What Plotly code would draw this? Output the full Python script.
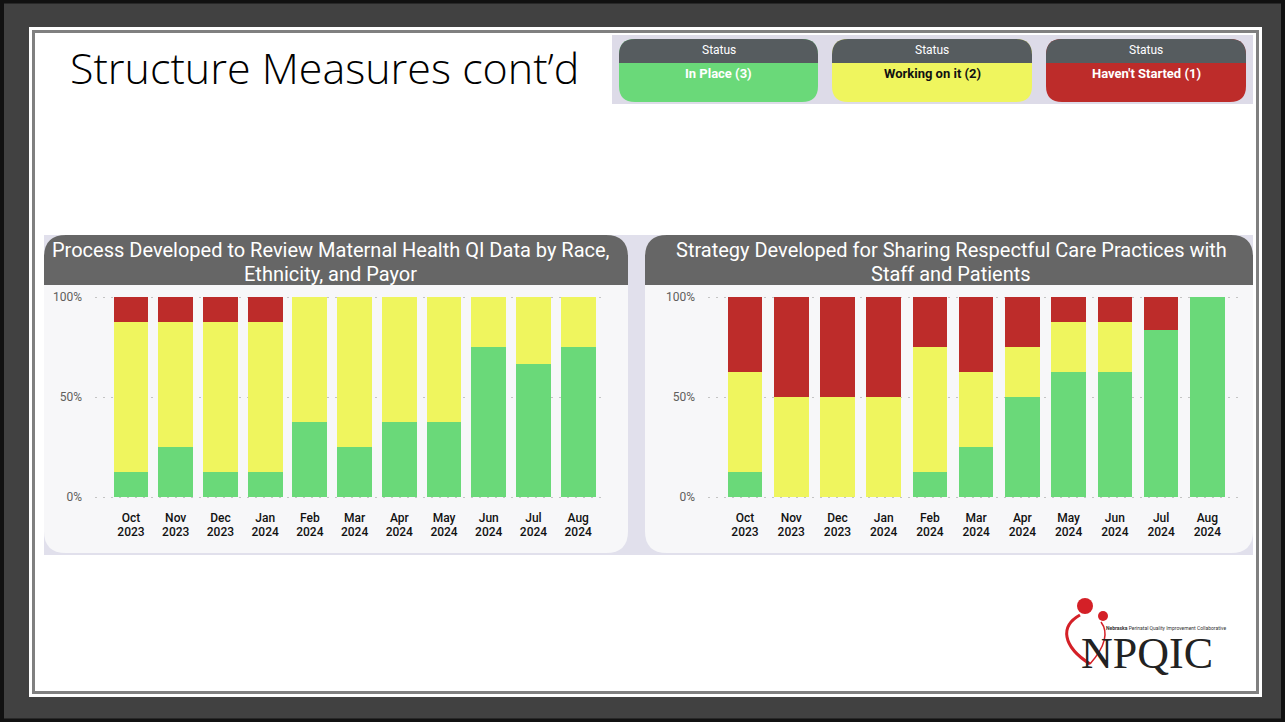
import plotly.graph_objects as go

W, H = 1285, 722

month_labels = ["Oct", "Nov", "Dec", "Jan", "Feb", "Mar", "Apr", "May", "Jun", "Jul", "Aug"]
year_labels = ["2023", "2023", "2023", "2024", "2024", "2024", "2024", "2024", "2024", "2024", "2024"]

# percent of hospitals per status
left_in_place = [12.5, 25, 12.5, 12.5, 37.5, 25, 37.5, 37.5, 75, 66.7, 75]
left_working = [75, 62.5, 75, 75, 62.5, 75, 62.5, 62.5, 25, 33.3, 25]
left_not_started = [12.5, 12.5, 12.5, 12.5, 0, 0, 0, 0, 0, 0, 0]

right_in_place = [12.5, 0, 0, 0, 12.5, 25, 50, 62.5, 62.5, 83.3, 100]
right_working = [50, 50, 50, 50, 62.5, 37.5, 25, 25, 25, 0, 0]
right_not_started = [37.5, 50, 50, 50, 25, 37.5, 25, 12.5, 12.5, 16.7, 0]

status_labels = ["In Place (3)", "Working on it (2)", "Haven't Started (1)"]

GREEN = "#6ad979"
YELLOW = "#eff55e"
RED = "#bd2c2a"
FONT = "Roboto"


def X(x):
    return x / W


def Y(y):
    return 1 - y / H


def rounded(x0, y0, x1, y1, r, top=True, bottom=True):
    """Rounded rect path in paper coords from pixel coords."""
    rt = r if top else 0
    rb = r if bottom else 0
    pts = [
        f"M {X(x0 + rt)},{Y(y0)}",
        f"L {X(x1 - rt)},{Y(y0)}",
        f"Q {X(x1)},{Y(y0)} {X(x1)},{Y(y0 + rt)}",
        f"L {X(x1)},{Y(y1 - rb)}",
        f"Q {X(x1)},{Y(y1)} {X(x1 - rb)},{Y(y1)}",
        f"L {X(x0 + rb)},{Y(y1)}",
        f"Q {X(x0)},{Y(y1)} {X(x0)},{Y(y1 - rb)}",
        f"L {X(x0)},{Y(y0 + rt)}",
        f"Q {X(x0)},{Y(y0)} {X(x0 + rt)},{Y(y0)}",
        "Z",
    ]
    return " ".join(pts)


def rect(x0, y0, x1, y1, fill):
    return dict(type="rect", xref="paper", yref="paper", x0=X(x0), x1=X(x1), y0=Y(y1), y1=Y(y0),
                fillcolor=fill, line=dict(width=0), layer="below")


def path(p, fill):
    return dict(type="path", xref="paper", yref="paper", path=p, fillcolor=fill,
                line=dict(width=0), layer="below")


def text(x, y, s, size, color, family=FONT, xanchor="center", weight=None):
    f = dict(size=size, color=color, family=family)
    if weight:
        f["weight"] = weight
    return dict(xref="paper", yref="paper", x=X(x), y=Y(y), text=s, showarrow=False,
                xanchor=xanchor, yanchor="middle", font=f)


fig = go.Figure()
idx = list(range(len(month_labels)))

for series, color, name in [(left_in_place, GREEN, "In Place"), (left_working, YELLOW, "Working on it"),
                            (left_not_started, RED, "Haven't Started")]:
    fig.add_trace(go.Bar(x=idx, y=series, marker=dict(color=color, line=dict(width=0)),
                         width=0.78, name=name, showlegend=False, xaxis="x", yaxis="y"))

for series, color, name in [(right_in_place, GREEN, "In Place"), (right_working, YELLOW, "Working on it"),
                            (right_not_started, RED, "Haven't Started")]:
    fig.add_trace(go.Bar(x=idx, y=series, marker=dict(color=color, line=dict(width=0)),
                         width=0.75, name=name, showlegend=False, xaxis="x2", yaxis="y2"))

# empty traces so the year-label axes get drawn
fig.add_trace(go.Scatter(x=[], y=[], xaxis="x3", yaxis="y", showlegend=False, hoverinfo="skip"))
fig.add_trace(go.Scatter(x=[], y=[], xaxis="x4", yaxis="y2", showlegend=False, hoverinfo="skip"))

# 2 px per percent, 0% at y=497 and 100% at y=297 (padded so edge gridlines survive)
ydom = [Y(501), Y(293)]
yax = dict(range=[-2, 102], tickvals=[0, 50, 100], ticktext=["0%", "50%", "100%"], showgrid=True,
           gridcolor="#c4c4c4", griddash="2px,6px", gridwidth=1, zeroline=False, showline=False,
           tickfont=dict(family=FONT, size=12, color="#605e5c"), ticklabelstandoff=12, domain=ydom,
           automargin=False)
xax = dict(tickvals=idx, showgrid=False, zeroline=False, showline=False, ticks="",
           tickfont=dict(family=FONT, size=12, color="#111111", weight=500), automargin=False)

shapes = [
    dict(type="rect", xref="paper", yref="paper", x0=X(2), x1=X(1283), y0=Y(720.5), y1=Y(1.5),
         line=dict(color="#111111", width=4), layer="below"),
    rect(29, 27, 1262, 697, "#ffffff"),
    rect(32, 30, 1259, 694, "#808080"),
    rect(35, 33, 1256, 691, "#ffffff"),
    # report canvas
    rect(44, 235, 1253, 555, "#e1e0ec"),
    path(rounded(44, 235, 628, 553, 22), "#f7f7f9"),
    path(rounded(44, 235, 628, 285, 22, bottom=False), "#666666"),
    path(rounded(645, 235, 1253, 553, 22), "#f7f7f9"),
    path(rounded(645, 235, 1253, 285, 22, bottom=False), "#666666"),
    # status legend
    rect(612, 35, 1253, 104, "#dddbe8"),
]

pills = [(619, 818, GREEN, "#ffffff"), (832, 1032, YELLOW, "#111111"), (1046, 1246, RED, "#ffffff")]
annotations = []
for (x0, x1, col, tcol), lab in zip(pills, status_labels):
    shapes.append(path(rounded(x0, 39, x1, 102, 16), col))
    shapes.append(path(rounded(x0, 39, x1, 63, 16, bottom=False), "#565c5f"))
    annotations.append(text((x0 + x1) / 2, 50, "Status", 12, "#ffffff"))
    annotations.append(text((x0 + x1) / 2, 73, f"<b>{lab}</b>", 13, tcol))

# logo
LOGO_RED = "#d42027"
shapes += [
    dict(type="circle", xref="paper", yref="paper", x0=X(1077), x1=X(1093), y0=Y(614), y1=Y(598),
         fillcolor=LOGO_RED, line=dict(width=0)),
    dict(type="circle", xref="paper", yref="paper", x0=X(1098), x1=X(1108), y0=Y(621), y1=Y(611),
         fillcolor=LOGO_RED, line=dict(width=0)),
    dict(type="path", xref="paper", yref="paper",
         path=f"M {X(1080)},{Y(615)} C {X(1060)},{Y(626)} {X(1062)},{Y(646)} {X(1090)},{Y(664)}",
         line=dict(color=LOGO_RED, width=3)),
    dict(type="path", xref="paper", yref="paper",
         path=f"M {X(1101)},{Y(622)} C {X(1110)},{Y(634)} {X(1104)},{Y(648)} {X(1090)},{Y(664)}",
         line=dict(color=LOGO_RED, width=1.5)),
]
annotations += [
    text(68, 68, "Structure Measures cont’d", 43, "#000000", family="Open Sans", xanchor="left", weight=300),
    text(331, 250, "Process Developed to Review Maternal Health QI Data by Race,", 20, "#ffffff"),
    text(331, 274, "Ethnicity, and Payor", 20, "#ffffff"),
    text(951, 250, "Strategy Developed for Sharing Respectful Care Practices with", 20, "#ffffff"),
    text(951, 274, "Staff and Patients", 20, "#ffffff"),
    text(1147, 653, "NPQIC", 44, "#222222", family="Liberation Serif"),
    text(1166, 628, "<b>Nebraska</b> Perinatal Quality Improvement Collaborative", 5, "#333333"),
]

fig.update_layout(
    width=W, height=H, autosize=False,
    margin=dict(l=0, r=0, t=0, b=0),
    paper_bgcolor="#414141", plot_bgcolor="rgba(0,0,0,0)",
    barmode="stack",
    xaxis=dict(xax, ticktext=month_labels, ticklabelstandoff=8,
               domain=[X(95), X(605)], range=[-0.805, 10.6], anchor="y"),
    xaxis3=dict(xax, ticktext=year_labels, ticklabelstandoff=22,
                overlaying="x", range=[-0.805, 10.6], anchor="y"),
    yaxis=dict(yax, anchor="x"),
    xaxis2=dict(xax, ticktext=month_labels, ticklabelstandoff=8,
                domain=[X(708), X(1242)], range=[-0.8, 10.75], anchor="y2"),
    xaxis4=dict(xax, ticktext=year_labels, ticklabelstandoff=22,
                overlaying="x2", range=[-0.8, 10.75], anchor="y2"),
    yaxis2=dict(yax, anchor="x2"),
    shapes=shapes,
    annotations=annotations,
)

# the page body has a default 8px margin; drop it so the figure fills the window
fig.write_html("out.html", config={"displayModeBar": False},
               post_script="document.body.style.margin = '0';")
